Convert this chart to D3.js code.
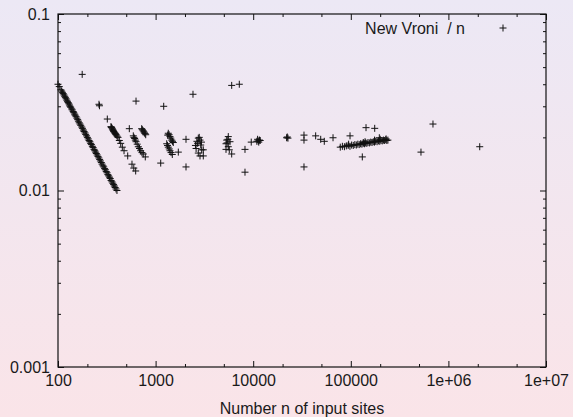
<!DOCTYPE html>
<html lang="en">
<head>
<meta charset="UTF-8">
<title>New Vroni / n</title>
<style>
  html, body { margin: 0; padding: 0; }
  svg { display: block; font-family: "Liberation Sans", Arial, sans-serif; }
</style>
</head>
<body>
<div id="graph"></div>
<script src="https://d3js.org/d3.v7.min.js"></script>
<script>
// size and plot frame
const WIDTH = 573;
const HEIGHT = 417;
const MARGIN = { left: 58, right: 27, top: 14, bottom: 50 };

// tick values and labels
const X_TICKS = [1e2, 1e3, 1e4, 1e5, 1e6, 1e7];
const X_LABELS = ["100", "1000", "10000", "100000", "1e+06", "1e+07"];
const Y_TICKS = [0.001, 0.01, 0.1];
const Y_LABELS = ["0.001", "0.01", "0.1"];

// data: [n, time / n]
const diag4 = [
  [100, 0.0400], [103, 0.0388], [107, 0.0372], [109, 0.0366], [111, 0.0360], [113, 0.0354],
  [115, 0.0348], [117, 0.0342], [119, 0.0337], [121, 0.0331], [123, 0.0325], [125, 0.0320],
  [127, 0.0315], [129, 0.0310], [131, 0.0305], [133, 0.0300], [135, 0.0296], [138, 0.0290],
  [140, 0.0286], [143, 0.0280], [145, 0.0276], [148, 0.0271], [150, 0.0267], [153, 0.0262],
  [156, 0.0257], [159, 0.0252], [162, 0.0247], [165, 0.0242], [168, 0.0238], [171, 0.0234],
  [175, 0.0229], [178, 0.0225], [182, 0.0220], [185, 0.0216], [189, 0.0212], [192, 0.0208],
  [196, 0.0204], [200, 0.0200], [204, 0.0196], [208, 0.0192], [212, 0.0189], [216, 0.0185],
  [220, 0.0182], [225, 0.0178], [229, 0.0175], [234, 0.0171], [238, 0.0168], [243, 0.0165],
  [247, 0.0162], [252, 0.0159], [257, 0.0156], [262, 0.0153], [267, 0.0150], [272, 0.0147],
  [278, 0.0144], [283, 0.0141], [289, 0.0138], [294, 0.0136], [300, 0.0133], [306, 0.0131],
  [312, 0.0128], [318, 0.0126], [324, 0.0123], [330, 0.0121], [337, 0.0119], [343, 0.0117],
  [350, 0.0114], [357, 0.0112], [364, 0.0110], [371, 0.0108], [378, 0.0106], [385, 0.0104],
  [393, 0.0102], [402, 0.0100]
];
const diag8 = [
  [263, 0.0308], [266, 0.0302], [320, 0.0254], [349, 0.0230], [352, 0.0228], [355, 0.0227],
  [360, 0.0224], [364, 0.0221], [368, 0.0219], [372, 0.0216], [377, 0.0214], [382, 0.0212],
  [386, 0.0210], [391, 0.0208], [396, 0.0206], [404, 0.0203], [412, 0.0200], [425, 0.0192],
  [439, 0.0185], [456, 0.0176], [475, 0.0168], [518, 0.0157], [573, 0.0141], [598, 0.0134],
  [625, 0.0129]
];
const diag12 = [
  [538, 0.0224], [591, 0.0204], [600, 0.0200], [610, 0.0197], [620, 0.0193], [630, 0.0189],
  [648, 0.0183], [665, 0.0177], [684, 0.0173], [703, 0.0168], [725, 0.0164], [748, 0.0161],
  [784, 0.0155]
];
const diag16 = [
  [720, 0.0224], [732, 0.0221], [745, 0.0218], [757, 0.0215], [768, 0.0212], [780, 0.0210],
  [792, 0.0207], [1128, 0.0143]
];
const cluster1k = [
  [1349, 0.0211], [1404, 0.0202], [1462, 0.0193], [1518, 0.0187], [1300, 0.0184], [1349, 0.0176],
  [1404, 0.0168], [1483, 0.0160], [1330, 0.0206], [1430, 0.0198], [1325, 0.0180], [1380, 0.0172],
  [1375, 0.0207], [1490, 0.0190], [1440, 0.0164]
];
const cluster3k = [
  [2739, 0.0198], [2851, 0.0193], [2700, 0.0185], [2900, 0.0181], [2600, 0.0173], [2967, 0.0170],
  [2739, 0.0163], [3081, 0.0170], [2851, 0.0157], [3081, 0.0157], [2800, 0.0200], [2650, 0.0190],
  [2950, 0.0188], [2560, 0.0180]
];
const cluster6k = [
  [5557, 0.0202], [5352, 0.0193], [5784, 0.0189], [5264, 0.0184], [5557, 0.0177], [5264, 0.0171],
  [5689, 0.0170], [6020, 0.0161], [5500, 0.0195], [5400, 0.0186]
];
const cluster10k = [
  [9550, 0.0188], [10900, 0.0190], [11270, 0.0191], [11600, 0.0193], [11100, 0.0195],
  [11400, 0.0188], [11800, 0.0192], [22000, 0.0199], [22340, 0.0201], [22700, 0.0198]
];
const band100k = [
  [78000, 0.0176], [82000, 0.0178], [86000, 0.0177], [90000, 0.0179], [94000, 0.0180],
  [98000, 0.0178], [102000, 0.0181], [106000, 0.0180], [110000, 0.0182], [114000, 0.0181],
  [118000, 0.0183], [122000, 0.0182], [126000, 0.0184], [130000, 0.0183], [134000, 0.0185],
  [138000, 0.0184], [142000, 0.0186], [146000, 0.0185], [150000, 0.0187], [155000, 0.0186],
  [160000, 0.0188], [165000, 0.0187], [170000, 0.0189], [175000, 0.0188], [180000, 0.0190],
  [186000, 0.0189], [192000, 0.0191], [198000, 0.0190], [204000, 0.0192], [210000, 0.0191],
  [216000, 0.0193], [222000, 0.0192], [228000, 0.0194], [234000, 0.0192], [240000, 0.0193],
  [95000, 0.0183], [140000, 0.0189], [200000, 0.0195], [230000, 0.0196], [175000, 0.0193]
];
const scattered = [
  [177, 0.0455], [630, 0.0321], [1211, 0.0300], [2416, 0.0351], [6020, 0.0394], [7205, 0.0400],
  [1709, 0.0165], [2049, 0.0195], [2049, 0.0136], [8241, 0.0171], [8241, 0.0127],
  [33140, 0.0206], [33140, 0.0193], [33140, 0.0136], [43650, 0.0204], [49170, 0.0195],
  [53500, 0.0190], [65750, 0.0199], [98200, 0.0204], [143200, 0.0227], [175800, 0.0225],
  [131200, 0.0155], [134300, 0.0187], [196000, 0.0199], [695000, 0.0238], [523600, 0.0165],
  [2094000, 0.0177]
];

const allPoints = [].concat(diag4, diag8, diag12, diag16, cluster1k, cluster3k,
  cluster6k, cluster10k, band100k, scattered);

const plotW = WIDTH - MARGIN.left - MARGIN.right;
const plotH = HEIGHT - MARGIN.top - MARGIN.bottom;

const x = d3.scaleLog().domain([1e2, 1e7]).range([0, plotW]);
const y = d3.scaleLog().domain([0.001, 0.1]).range([plotH, 0]);

// minor ticks
const xMinor = [];
X_TICKS.slice(0, -1).forEach(d => [2, 5].forEach(m => xMinor.push(d * m)));
const yMinor = [];
Y_TICKS.slice(0, -1).forEach(d => d3.range(2, 10).forEach(m => yMinor.push(d * m)));

const svg = d3.select("#graph")
  .append("svg")
  .attr("width", WIDTH)
  .attr("height", HEIGHT);

// background gradient
const grad = svg.append("defs").append("linearGradient")
  .attr("id", "bg")
  .attr("x1", 0).attr("y1", 0).attr("x2", 0).attr("y2", 1);
grad.append("stop").attr("offset", "0%").attr("stop-color", "#ece8f5");
grad.append("stop").attr("offset", "100%").attr("stop-color", "#fae4e8");

svg.append("rect")
  .attr("width", WIDTH)
  .attr("height", HEIGHT)
  .attr("fill", "url(#bg)");

const g = svg.append("g")
  .attr("transform", `translate(${MARGIN.left}, ${MARGIN.top})`);

function styleAxis(sel) {
  sel.select(".domain").remove();
  sel.selectAll("line").attr("stroke", "#111").attr("stroke-width", 1);
  sel.selectAll("text")
    .attr("fill", "#1a1a1a")
    .style("font-size", "16px")
    .style("font-family", "'Liberation Sans', Arial, sans-serif");
}

// major ticks with labels (inward)
g.append("g")
  .attr("transform", `translate(0, ${plotH})`)
  .call(d3.axisBottom(x).tickValues(X_TICKS).tickFormat((d, i) => X_LABELS[i])
    .tickSizeInner(-6).tickSizeOuter(0).tickPadding(8))
  .call(styleAxis);
g.append("g")
  .call(d3.axisLeft(y).tickValues(Y_TICKS).tickFormat((d, i) => Y_LABELS[i])
    .tickSizeInner(-6).tickSizeOuter(0).tickPadding(8))
  .call(styleAxis);
// mirrored ticks on top and right
g.append("g")
  .call(d3.axisTop(x).tickValues(X_TICKS).tickFormat("").tickSizeInner(-6).tickSizeOuter(0))
  .call(styleAxis);
g.append("g")
  .attr("transform", `translate(${plotW}, 0)`)
  .call(d3.axisRight(y).tickValues(Y_TICKS).tickFormat("").tickSizeInner(-6).tickSizeOuter(0))
  .call(styleAxis);

// minor ticks
g.append("g")
  .attr("transform", `translate(0, ${plotH})`)
  .call(d3.axisBottom(x).tickValues(xMinor).tickFormat("").tickSizeInner(-3).tickSizeOuter(0))
  .call(styleAxis);
g.append("g")
  .call(d3.axisTop(x).tickValues(xMinor).tickFormat("").tickSizeInner(-3).tickSizeOuter(0))
  .call(styleAxis);
g.append("g")
  .call(d3.axisLeft(y).tickValues(yMinor).tickFormat("").tickSizeInner(-3).tickSizeOuter(0))
  .call(styleAxis);
g.append("g")
  .attr("transform", `translate(${plotW}, 0)`)
  .call(d3.axisRight(y).tickValues(yMinor).tickFormat("").tickSizeInner(-3).tickSizeOuter(0))
  .call(styleAxis);

// frame
g.append("rect")
  .attr("width", plotW)
  .attr("height", plotH)
  .attr("fill", "none")
  .attr("stroke", "#111")
  .attr("stroke-width", 1.2);

// points as "+"
const PLUS = "M-3.5,0H3.5M0,-3.5V3.5";
g.selectAll(".pt")
  .data(allPoints)
  .enter()
  .append("path")
  .attr("class", "pt")
  .attr("d", PLUS)
  .attr("transform", d => `translate(${x(d[0])}, ${y(d[1])})`)
  .attr("fill", "none")
  .attr("stroke", "#111")
  .attr("stroke-width", 1);

// legend
svg.append("text")
  .attr("x", 465)
  .attr("y", 34)
  .attr("text-anchor", "end")
  .attr("fill", "#1a1a1a")
  .style("font-size", "16px")
  .style("white-space", "pre")
  .text("New Vroni  / n");
svg.append("path")
  .attr("d", PLUS)
  .attr("transform", "translate(503, 28)")
  .attr("fill", "none")
  .attr("stroke", "#111")
  .attr("stroke-width", 1);

// axis title
svg.append("text")
  .attr("x", MARGIN.left + plotW / 2)
  .attr("y", 414)
  .attr("text-anchor", "middle")
  .attr("fill", "#1a1a1a")
  .style("font-size", "16px")
  .text("Number n of input sites");
</script>
</body>
</html>
